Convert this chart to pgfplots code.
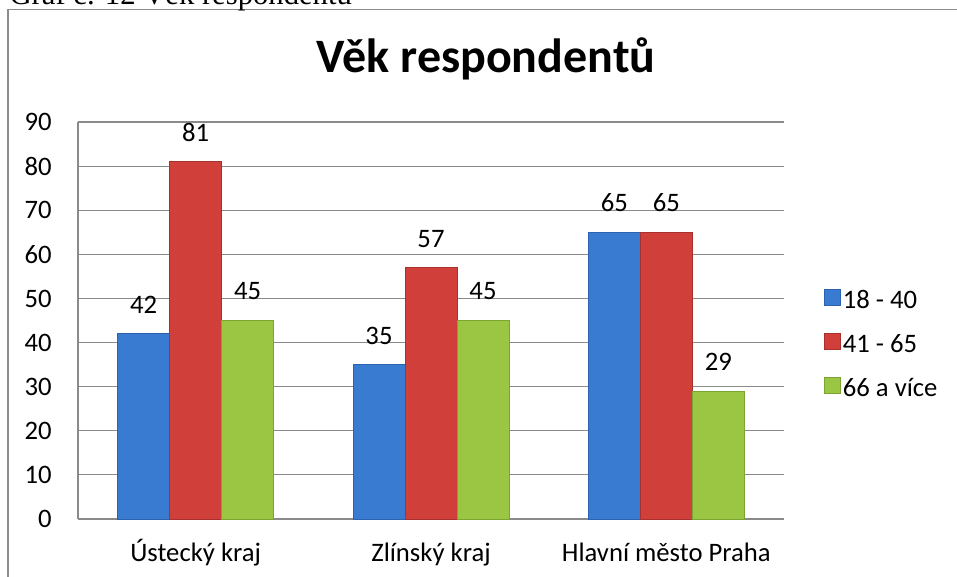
\documentclass[border=0pt]{standalone}
\usepackage{pgfplots}
\pgfplotsset{compat=1.18}
\usepackage{fontspec}
\setmainfont{Carlito}
\newfontfamily\timesf{Liberation Serif}
\definecolor{axgray}{HTML}{8A8A8A}
\definecolor{frgray}{HTML}{8C8C8C}
\definecolor{bluef}{HTML}{3A7BD2}
\definecolor{bluel}{HTML}{2C63B0}
\definecolor{redf}{HTML}{D13F3B}
\definecolor{redl}{HTML}{A8302D}
\definecolor{greenf}{HTML}{9BC643}
\definecolor{greenl}{HTML}{7AA532}
\begin{document}
\begin{tikzpicture}
\useasboundingbox (0,0) rectangle (717.75pt,432pt);
\clip (0,0) rectangle (717.75pt,432pt);
% frame
\draw[frgray, line width=1.3pt] (6pt,-20pt) -- (6pt,424.9pt) -- (740pt,424.9pt);
% cut-off caption
\node[anchor=base west, inner sep=0pt, font=\timesf\fontsize{23}{26}\selectfont] at (7pt,428.3pt) {Graf č. 12 Věk respondentů};
% title
\node[anchor=base, inner sep=0pt, font=\fontsize{36}{40}\selectfont\bfseries] at (364.5pt,377.3pt) {Věk respondentů};
\begin{axis}[
  at={(58.5pt,42.75pt)}, anchor=south west,
  scale only axis, width=529.5pt, height=297.75pt,
  ybar=0pt, bar width=39pt,
  xmin=-0.5, xmax=2.5, ymin=0, ymax=90,
  xtick={0,1,2},
  xticklabels={Ústecký kraj, Zlínský kraj, Hlavní město Praha},
  ytick={0,10,...,90},
  axis x line*=bottom, axis y line*=left,
  axis line style={draw=axgray, line width=1pt, -},
  ymajorgrids, grid style={draw=axgray, line width=0.9pt},
  major tick length=0pt,
  tick style={draw=none},
  /pgf/number format/assume math mode=true,
  ticklabel style={font=\fontsize{20}{23}\selectfont},
  yticklabel style={inner sep=0pt, xshift=-19.5pt},
  xticklabel style={inner sep=0pt, anchor=base, yshift=-31.5pt},
  nodes near coords,
  every node near coord/.append style={font=\fontsize{20}{23}\selectfont, inner sep=0pt, yshift=15pt, text=black},
  legend style={at={(1.05,0.44)}, anchor=west, draw=none, fill=none,
    font=\fontsize{20}{23}\selectfont, row sep=14pt,
    /tikz/every even column/.append style={column sep=3pt}},
  legend cell align=left,
  legend image code/.code={\path[#1] (0pt,-4pt) rectangle (12pt,8pt);},
]
\addplot[draw=bluel, line width=0.5pt, fill=bluef] coordinates {(0,42) (1,35) (2,65)};
\addplot[draw=redl, line width=0.5pt, fill=redf] coordinates {(0,81) (1,57) (2,65)};
\addplot[draw=greenl, line width=0.5pt, fill=greenf] coordinates {(0,45) (1,45) (2,29)};
\legend{18 - 40, 41 - 65, 66 a více}
\end{axis}
\end{tikzpicture}
\end{document}
